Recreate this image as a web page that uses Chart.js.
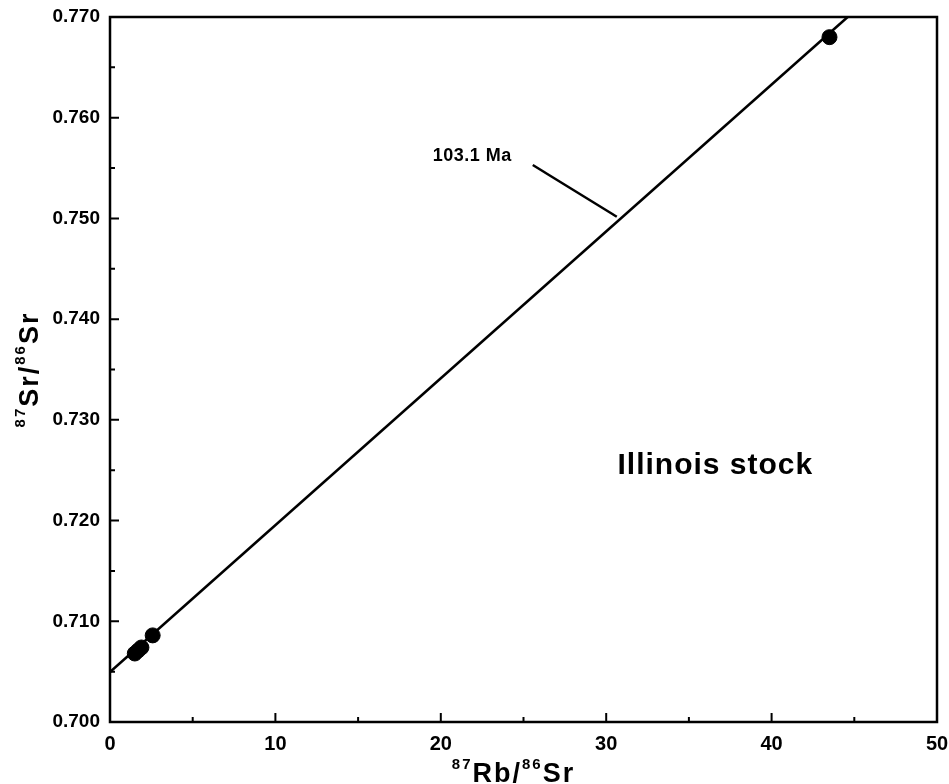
<!DOCTYPE html>
<html>
<head>
<meta charset="utf-8">
<script src="https://cdn.jsdelivr.net/npm/chart.js@4/dist/chart.umd.min.js"></script>
<style>
  html, body { margin: 0; padding: 0; background: #fff; }
  #wrap { width: 949px; height: 784px; }
</style>
</head>
<body>
<div id="wrap"><canvas id="c" width="949" height="784"></canvas></div>
<script>
// ── Data ───────────────────────────────────────────────────────
const rbSr = [43.5, 2.58, 1.9, 1.7, 1.5];               // 87Rb/86Sr
const srSr = [0.7680, 0.7086, 0.7074, 0.7071, 0.7068];  // 87Sr/86Sr
const isoX = [0, 44.6];
const isoY = [0.70496, 0.7700];
const leaderX = [25.56, 30.64];
const leaderY = [0.75531, 0.75017];
const xTicks = [0, 10, 20, 30, 40, 50];
const yTicks = [0.700, 0.710, 0.720, 0.730, 0.740, 0.750, 0.760, 0.770];
const ageLabel = { text: '103.1 Ma', x: 21.9, y: 0.7562 };
const plotTitle = { text: 'Illinois stock', x: 36.6, y: 0.7254 };

const FONT = '"Liberation Sans", Arial, sans-serif';
const pts = rbSr.map((x, i) => ({ x, y: srSr[i] }));
const iso = isoX.map((x, i) => ({ x, y: isoY[i] }));
const leader = leaderX.map((x, i) => ({ x, y: leaderY[i] }));

// ── Frame, inside ticks, labels ────────────────────────────────
const decor = {
  id: 'decor',
  afterDraw(chart) {
    const ctx = chart.ctx, a = chart.chartArea;
    const xs = chart.scales.x, ys = chart.scales.y;
    ctx.save();
    ctx.strokeStyle = '#000';
    ctx.lineWidth = 2.5;
    ctx.strokeRect(a.left, a.top, a.right - a.left, a.bottom - a.top);

    ctx.lineWidth = 2;
    ctx.beginPath();
    for (let v = 5; v < 50; v += 5) {
      const px = xs.getPixelForValue(v);
      const len = v % 10 === 0 ? 9 : 5;
      ctx.moveTo(px, a.bottom); ctx.lineTo(px, a.bottom - len);
    }
    for (let i = 1; i < 14; i++) {
      const py = ys.getPixelForValue(0.700 + i * 0.005);
      const len = i % 2 === 0 ? 9 : 5;
      ctx.moveTo(a.left, py); ctx.lineTo(a.left + len, py);
    }
    ctx.stroke();

    ctx.fillStyle = '#000';
    ctx.textAlign = 'center';
    ctx.textBaseline = 'middle';
    ctx.letterSpacing = '0.5px';
    ctx.font = 'bold 18px ' + FONT;
    ctx.fillText(ageLabel.text, xs.getPixelForValue(ageLabel.x), ys.getPixelForValue(ageLabel.y));
    ctx.letterSpacing = '1px';
    ctx.font = 'bold 30px ' + FONT;
    ctx.fillText(plotTitle.text, xs.getPixelForValue(plotTitle.x), ys.getPixelForValue(plotTitle.y));

    // axis titles with superscripts
    const parts = n => [['87', true], [n + '/', false], ['86', true], ['Sr', false]];
    drawSup(ctx, parts('Rb'), (a.left + a.right) / 2 - 10, 782, 0);
    drawSup(ctx, parts('Sr'), 38, (a.top + a.bottom) / 2, -Math.PI / 2);
    ctx.restore();
  }
};

// cx = centre along the text, base = main baseline
function drawSup(ctx, parts, cx, base, rot) {
  const big = 'bold 27px ' + FONT, small = 'bold 15px ' + FONT;
  ctx.save();
  ctx.letterSpacing = '2px';
  let w = 0;
  parts.forEach(([t, s]) => { ctx.font = s ? small : big; w += ctx.measureText(t).width; });
  ctx.translate(cx, base);
  if (rot) ctx.rotate(rot);
  ctx.textAlign = 'left';
  ctx.textBaseline = 'alphabetic';
  let x = -w / 2;
  parts.forEach(([t, s]) => {
    ctx.font = s ? small : big;
    ctx.fillText(t, x, s ? -13 : 0);
    x += ctx.measureText(t).width;
  });
  ctx.restore();
}

new Chart(document.getElementById('c'), {
  type: 'scatter',
  data: {
    datasets: [
      { data: pts, backgroundColor: '#000', borderColor: '#000', pointRadius: 7.5, showLine: false },
      { data: iso, showLine: true, borderColor: '#000', borderWidth: 2.5, pointRadius: 0 },
      { data: leader, showLine: true, borderColor: '#000', borderWidth: 2.5, pointRadius: 0 }
    ]
  },
  options: {
    responsive: false,
    animation: false,
    clip: false,
    layout: { padding: { top: 17, right: 12, bottom: 0, left: 0 } },
    plugins: { legend: { display: false }, tooltip: { enabled: false } },
    scales: {
      x: {
        type: 'linear', min: 0, max: 50,
        afterBuildTicks: s => { s.ticks = xTicks.map(v => ({ value: v })); },
        afterFit: s => { s.height = 62; s.paddingLeft = 0; s.paddingRight = 0; },
        grid: { display: false, drawTicks: false },
        border: { display: false },
        ticks: { color: '#000', padding: 10, font: { family: FONT, size: 20, weight: 'bold' }, maxRotation: 0 }
      },
      y: {
        type: 'linear', min: 0.700, max: 0.770,
        afterBuildTicks: s => { s.ticks = yTicks.map(v => ({ value: v })); },
        afterFit: s => { s.width = 110; s.paddingTop = 0; s.paddingBottom = 0; },
        grid: { display: false, drawTicks: false },
        border: { display: false },
        ticks: { color: '#000', padding: 10, font: { family: FONT, size: 19, weight: 'bold' },
                 callback: v => v.toFixed(3) }
      }
    }
  },
  plugins: [decor]
});
</script>
</body>
</html>
